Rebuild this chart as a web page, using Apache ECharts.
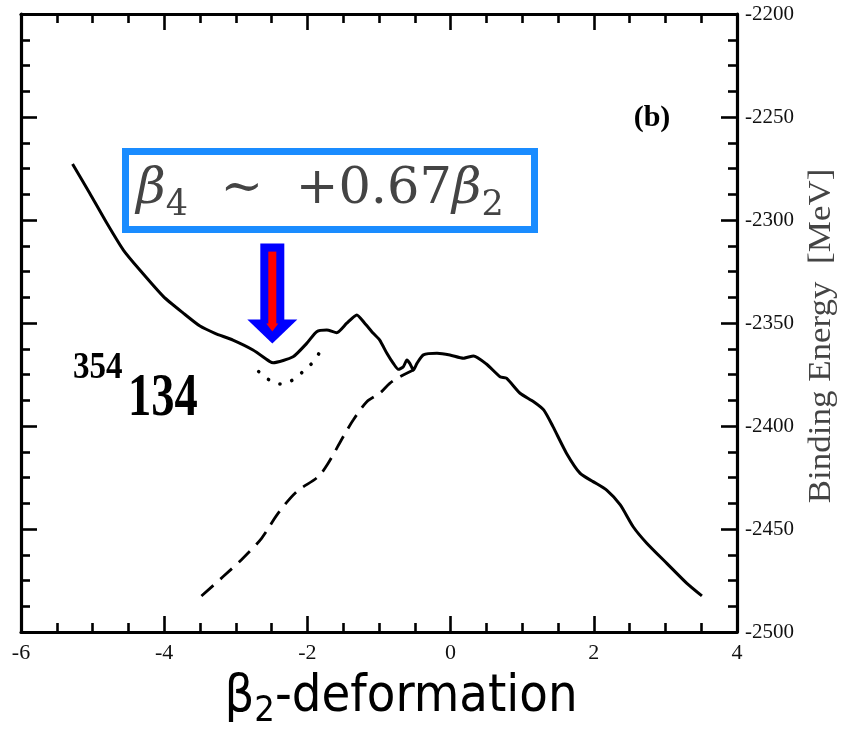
<!DOCTYPE html>
<html>
<head>
<meta charset="utf-8">
<script src="https://cdn.jsdelivr.net/npm/echarts@6/dist/echarts.min.js"></script>
<style>
  html, body { margin: 0; padding: 0; background: #fff; }
  #chart { width: 841px; height: 729px; }
</style>
</head>
<body>
<div id="chart"></div>
<script>
// Potential-energy curves of nucleus 354/134: binding energy [MeV] vs. beta2 deformation

// full curve (solid)
const solidBeta = [-5.28, -5.04, -4.80, -4.57, -4.34, -4.01, -3.73, -3.50, -3.29, -3.04,
  -2.76, -2.52, -2.48, -2.20, -2.01, -1.87, -1.73, -1.59, -1.45, -1.31,
  -1.20, -1.08, -0.99, -0.89, -0.80, -0.73, -0.66, -0.61, -0.57, -0.52,
  -0.47, -0.38, -0.19, -0.01, 0.18, 0.32, 0.50, 0.69, 0.78, 0.97,
  1.16, 1.30, 1.43, 1.62, 1.81, 1.99, 2.18, 2.37, 2.55, 2.74,
  3.02, 3.30, 3.51];
const solidEnergy = [-2272.8, -2287.0, -2301.6, -2314.6, -2324.3, -2337.2, -2345.3, -2351.5, -2355.0, -2358.3,
  -2363.1, -2368.8, -2369.3, -2366.4, -2359.9, -2354.2, -2353.4, -2354.7, -2350.1, -2346.1,
  -2350.1, -2355.0, -2358.3, -2364.7, -2369.6, -2372.5, -2371.2, -2368.0, -2369.6, -2372.8,
  -2369.6, -2365.5, -2364.7, -2365.5, -2367.1, -2366.0, -2369.9, -2376.1, -2376.8, -2384.1,
  -2388.2, -2392.2, -2400.3, -2413.3, -2423.0, -2427.0, -2431.1, -2438.3, -2448.9, -2456.9,
  -2466.7, -2476.4, -2482.5];

// local minimum branch (dotted)
const dottedBeta = [-2.68, -2.53, -2.36, -2.19, -2.04, -1.90, -1.79];
const dottedEnergy = [-2373.6, -2377.7, -2379.6, -2377.3, -2372.8, -2368.0, -2361.5];

// alternative branch (dashed)
const dashedBeta = [-3.48, -3.18, -2.90, -2.64, -2.41, -2.15, -1.85, -1.71, -1.50, -1.36,
  -1.17, -0.99, -0.85, -0.71, -0.52];
const dashedEnergy = [-2482.5, -2473.2, -2464.2, -2454.5, -2442.4, -2431.9, -2424.6, -2418.1, -2405.2, -2397.1,
  -2388.2, -2384.1, -2379.3, -2376.1, -2372.8];

// arrow points at the minimum near beta2 = -2.5
const arrowTip = [-2.49, -2360];

const zip = (xs, ys) => xs.map((x, i) => [x, ys[i]]);

const chart = echarts.init(document.getElementById('chart'), null, { renderer: 'canvas' });

const frameLine = { show: true, onZero: false, lineStyle: { color: '#000', width: 3.2 } };
const majorTick = { show: true, inside: true, length: 16, lineStyle: { color: '#000', width: 2.6 } };
const minorTick = { show: true, splitNumber: 4, length: 9, lineStyle: { color: '#000', width: 2.6 } };
const serif = 'Liberation Serif, Times New Roman, serif';

chart.setOption({
  animation: false,
  backgroundColor: '#fff',
  grid: { left: 21, right: 104, top: 14, bottom: 97, containLabel: false },
  xAxis: [
    {
      type: 'value', min: -6, max: 4, interval: 2, position: 'bottom',
      axisLine: frameLine, axisTick: majorTick, minorTick: minorTick,
      splitLine: { show: false }, minorSplitLine: { show: false },
      axisLabel: {
        margin: 10, fontFamily: serif, fontSize: 22, color: '#111',
        showMinLabel: true, showMaxLabel: true, hideOverlap: false,
        formatter: v => String(v)
      }
    },
    {
      type: 'value', min: -6, max: 4, interval: 2, position: 'top',
      axisLine: frameLine, axisTick: majorTick, minorTick: minorTick,
      splitLine: { show: false }, minorSplitLine: { show: false },
      axisLabel: { show: false }
    }
  ],
  yAxis: [
    {
      type: 'value', min: -2500, max: -2200, interval: 50, position: 'right',
      axisLine: frameLine, axisTick: majorTick, minorTick: minorTick,
      splitLine: { show: false }, minorSplitLine: { show: false },
      axisLabel: {
        margin: 8, fontFamily: serif, fontSize: 21, color: '#111',
        showMinLabel: true, showMaxLabel: true, hideOverlap: false,
        formatter: v => String(v)
      }
    },
    {
      type: 'value', min: -2500, max: -2200, interval: 50, position: 'left',
      axisLine: frameLine, axisTick: majorTick, minorTick: minorTick,
      splitLine: { show: false }, minorSplitLine: { show: false },
      axisLabel: { show: false }
    }
  ],
  series: [
    {
      type: 'line', xAxisIndex: 0, yAxisIndex: 0,
      data: zip(solidBeta, solidEnergy),
      showSymbol: false, smooth: 0.2,
      lineStyle: { color: '#000', width: 3 }
    },
    {
      type: 'line', xAxisIndex: 0, yAxisIndex: 0,
      data: zip(dottedBeta, dottedEnergy),
      showSymbol: false, smooth: 0.5,
      lineStyle: { color: '#000', width: 3.6, type: [0.1, 12.5], cap: 'round' }
    },
    {
      type: 'line', xAxisIndex: 0, yAxisIndex: 0,
      data: zip(dashedBeta, dashedEnergy),
      showSymbol: false, smooth: 0.3,
      lineStyle: { color: '#000', width: 2.8, type: [16, 9] }
    }
  ]
});

// annotations
const tip = chart.convertToPixel({ xAxisIndex: 0, yAxisIndex: 0 }, arrowTip);
const tx = tip[0], ty = tip[1];

chart.setOption({
  graphic: [
    // formula box
    {
      type: 'rect', shape: { x: 125.5, y: 151.5, width: 409, height: 78 },
      style: { fill: '#fff', stroke: '#1a8cff', lineWidth: 7 }, z: 10
    },
    {
      type: 'text', x: 320, y: 190, z: 11,
      style: {
        text: '{b|β}{s|4}{n|  ∼  +0.67}{b|β}{s|2}',
        align: 'center', verticalAlign: 'middle',
        rich: {
          b: { fontFamily: 'DejaVu Serif', fontStyle: 'italic', fontSize: 51, fill: '#444', lineHeight: 66, verticalAlign: 'middle' },
          n: { fontFamily: 'DejaVu Serif', fontSize: 51, fill: '#444', lineHeight: 66, verticalAlign: 'middle' },
          s: { fontFamily: 'DejaVu Serif', fontSize: 35, fill: '#444', lineHeight: 35, verticalAlign: 'bottom' }
        }
      }
    },
    // arrow
    {
      type: 'rect', z: 10, shape: { x: tx - 12, y: ty - 100, width: 24, height: 77 },
      style: { fill: '#0000ff' }
    },
    {
      type: 'polygon', z: 10,
      shape: { points: [[tx - 25, ty - 24], [tx + 25, ty - 24], [tx, ty]] },
      style: { fill: '#0000ff' }
    },
    {
      type: 'rect', z: 11, shape: { x: tx - 4, y: ty - 92, width: 8, height: 74 },
      style: { fill: '#ff0000' }
    },
    {
      type: 'polygon', z: 11,
      shape: { points: [[tx - 6, ty - 20], [tx + 6, ty - 20], [tx, ty - 12]] },
      style: { fill: '#ff0000' }
    },
    // panel tag
    {
      type: 'text', x: 652, y: 118, z: 11,
      style: { text: '(b)', fontFamily: serif, fontWeight: 'bold', fontSize: 30, fill: '#000', align: 'center', verticalAlign: 'middle' }
    },
    // nucleus label
    {
      type: 'text', x: 73, y: 368, scaleX: 0.87, z: 11,
      style: { text: '354', fontFamily: serif, fontWeight: 'bold', fontSize: 38, fill: '#000', align: 'left', verticalAlign: 'middle' }
    },
    {
      type: 'text', x: 128, y: 399, scaleX: 0.75, z: 11,
      style: { text: '134', fontFamily: serif, fontWeight: 'bold', fontSize: 62, fill: '#000', align: 'left', verticalAlign: 'middle' }
    },
    // right axis title, read bottom to top
    {
      type: 'text', x: 822, y: 336, rotation: Math.PI / 2, scaleY: 0.9, z: 11,
      style: { text: 'Binding Energy  [MeV]', fontFamily: serif, fontSize: 35, fill: '#444', align: 'center', verticalAlign: 'middle' }
    },
    // bottom axis title
    {
      type: 'text', x: 401, y: 697, z: 11,
      style: {
        text: '{t|β}{sub|2}{t|-deformation}',
        align: 'center', verticalAlign: 'middle',
        rich: {
          t: { fontFamily: 'DejaVu Sans Condensed, DejaVu Sans', fontSize: 52, fill: '#000', lineHeight: 66, verticalAlign: 'middle' },
          sub: { fontFamily: 'DejaVu Sans Condensed, DejaVu Sans', fontSize: 36, fill: '#000', lineHeight: 36, verticalAlign: 'bottom' }
        }
      }
    }
  ]
});
</script>
</body>
</html>
